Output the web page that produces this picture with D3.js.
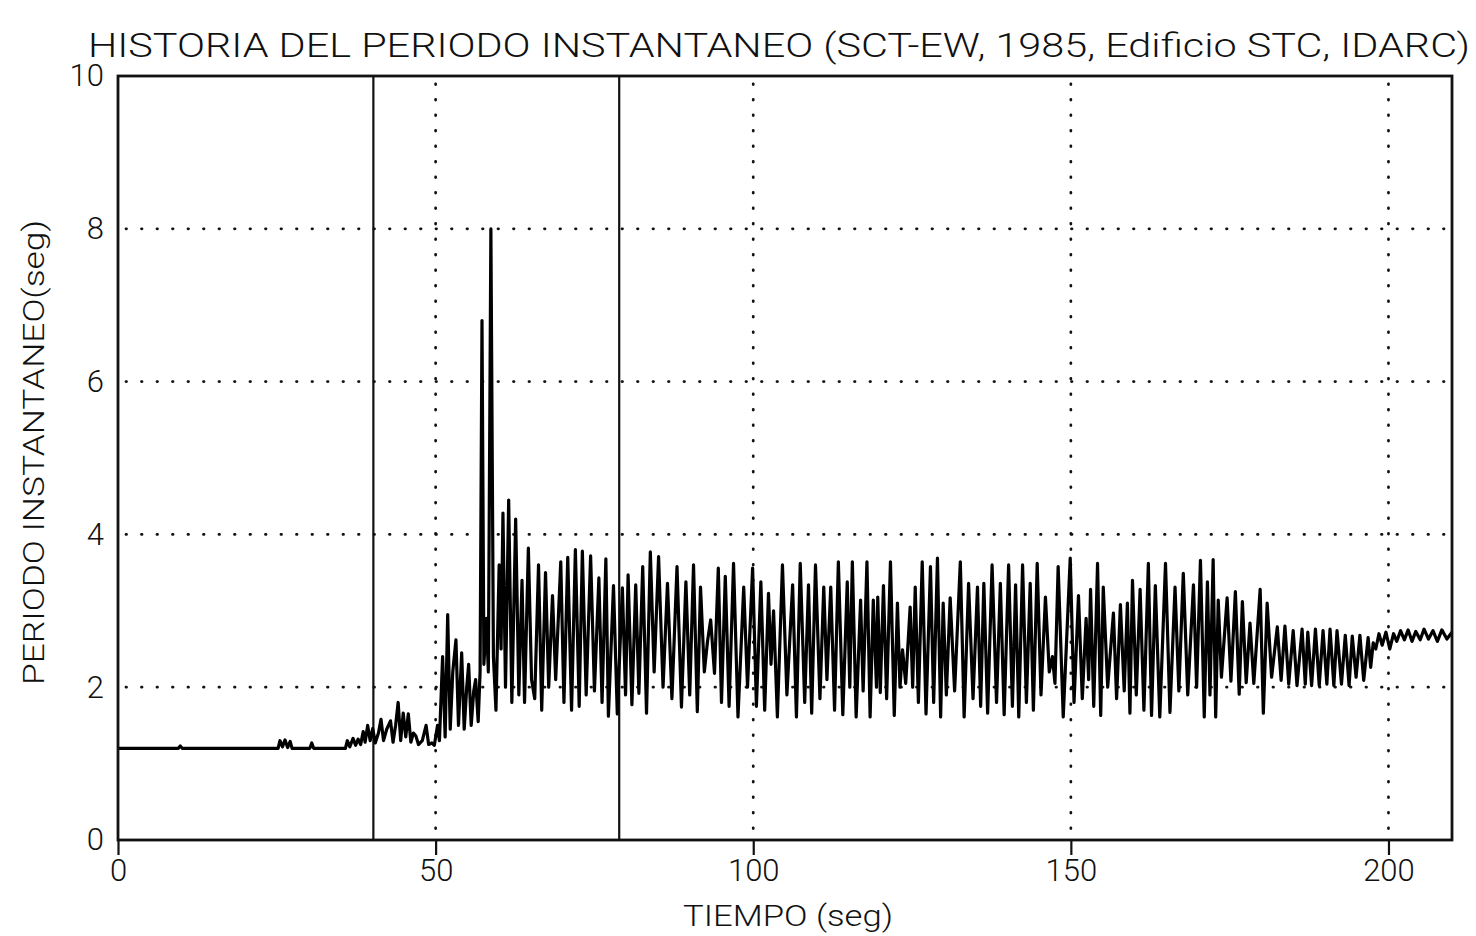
<!DOCTYPE html>
<html>
<head>
<meta charset="utf-8">
<script src="https://cdn.jsdelivr.net/npm/d3@7"></script>
<style>
  body { margin: 0; background: #fff; }
  svg { display: block; }
  text { font-family: Roboto, "Liberation Sans", sans-serif; font-weight: 300; fill: #111; }
</style>
</head>
<body>
<svg width="1476" height="936"></svg>
<script>
// dimensioni della pagina e del riquadro del grafico
const width = 1476;
const height = 936;
const margin = {top: 76, right: 24, bottom: 96, left: 118};

// testi
const titolo = "HISTORIA DEL PERIODO INSTANTANEO (SCT-EW, 1985, Edificio STC, IDARC)";
const etichettaX = "TIEMPO (seg)";
const etichettaY = "PERIODO INSTANTANEO(seg)";

// assi: dominio e tacche
const dominioX = [0, 210];
const dominioY = [0, 10];
const tickX = [0, 50, 100, 150, 200];
const tickY = [0, 2, 4, 6, 8, 10];
const grigliaX = [50, 100, 150, 200];
const grigliaY = [2, 4, 6, 8];

// linee verticali continue (istanti marcati)
const lineeVerticali = [40.2, 78.9];

// storia del periodo istantaneo: [tiempo (s), periodo (s)]
const registro = [
  [0,1.2],[9.5,1.2],[9.8,1.23],[10.1,1.2],[25.2,1.2],[25.5,1.3],[25.9,1.22],[26.3,1.31],[26.7,1.21],[27.1,1.29],
  [27.4,1.2],[30.2,1.2],[30.5,1.27],[30.8,1.2],[35.8,1.2],[36.1,1.3],[36.5,1.22],[37,1.33],[37.4,1.24],[37.8,1.32],
  [38.2,1.25],[38.6,1.42],[38.9,1.28],[39.3,1.5],[39.7,1.3],[40.1,1.46],[40.5,1.27],[41,1.4],[41.4,1.58],[41.8,1.3],
  [42.3,1.45],[42.9,1.56],[43.3,1.28],[43.7,1.5],[44.1,1.8],[44.5,1.3],[44.9,1.66],[45.3,1.35],[45.7,1.65],[46.1,1.28],
  [46.5,1.4],[46.9,1.36],[47.3,1.25],[47.9,1.3],[48.5,1.5],[48.9,1.25],[49.4,1.27],[49.8,1.24],
  [50.3,1.5],[50.6,1.3],[51.1,2.4],[51.5,1.35],[51.9,2.95],[52.3,1.45],[52.7,2.2],[53.2,2.62],[53.6,1.5],[54.1,2.45],
  [54.5,1.45],[54.9,2.0],[55.2,2.3],[55.6,1.5],[56,1.95],[56.3,2.1],[56.7,1.55],[57.0,2.2],
  [57.3,6.8],[57.6,2.3],[58.0,2.9],[58.3,2.2],[58.7,8.0],[59.1,2.4],[59.5,1.7],[60.0,3.6],[60.3,2.5],[60.6,4.28],
  [61.0,2.0],[61.5,4.45],[62.0,1.8],[62.6,4.2],[63.1,1.9],[63.6,3.4],[64.0,1.8],[64.6,3.82],[65.1,2.1],[65.6,1.85],
  [66.2,3.6],[66.7,1.7],[67.3,3.5],[67.8,2.0],[68.4,3.2],[68.9,2.1],[69.7,3.64],[70.2,1.8],[70.8,3.7],[71.4,1.7],
  [72.0,3.8],[72.6,1.75],[73.1,3.78],[73.7,1.9],[74.4,3.72],[75,1.95],[75.7,3.43],[76.2,1.8],[76.8,3.68],[77.2,1.62],
  [78,3.33],[78.6,1.65],[79.4,3.3],[79.9,1.9],[80.3,3.47],[80.9,1.77],[81.5,3.34],[82.0,1.92],[82.6,3.58],[83.2,1.66],
  [83.8,3.77],[84.4,2.2],[85.1,3.71],[85.8,2.0],[86.5,3.36],[87.2,1.85],[88,3.58],[88.7,1.74],[89.4,3.38],[90.0,1.9],
  [90.6,3.6],[91.2,1.68],[91.7,3.31],[92.3,2.2],[92.8,2.6],[93.3,2.88],[93.9,2.18],[94.5,3.56],[95.0,1.8],[95.6,3.45],
  [96.2,1.75],[96.9,3.62],[97.6,1.61],[98.5,3.31],[99.1,2.0],[99.9,3.56],[100.5,1.75],[101.2,3.38],[101.8,1.7],[102.4,3.23],
  [102.8,2.3],[103.2,3.0],[103.8,1.61],[104.6,3.6],[105.3,1.9],[106.2,3.34],[106.8,1.61],[107.4,3.62],[108.1,1.8],[108.7,3.34],
  [109.2,1.66],[109.8,3.6],[110.5,1.85],[111.1,3.31],[111.6,2.1],[112.2,3.31],[112.8,1.7],[113.4,3.64],[114.1,1.64],[114.8,3.38],
  [115.2,2.0],[115.6,3.64],[116.2,1.61],[116.9,3.14],[117.3,1.95],[117.9,3.64],[118.4,1.61],[118.9,3.14],[119.4,2.0],[119.6,3.18],
  [120.0,1.93],[120.5,3.33],[121.0,1.85],[121.6,3.64],[122.2,1.63],[122.7,3.1],[123.1,2.0],[123.5,2.49],[124.0,2.05],[124.7,3.05],
  [125.1,2.0],[125.5,3.31],[126.0,1.8],[126.6,3.64],[127.2,1.65],[127.9,3.58],[128.4,1.8],[129,3.69],[129.5,1.61],[129.9,3.1],
  [130.4,1.9],[131,3.17],[131.7,1.95],[132.6,3.64],[133.2,1.61],[133.9,3.36],[134.6,1.85],[135.3,3.31],[135.8,1.75],[136.3,3.36],
  [136.9,1.66],[137.6,3.6],[138.3,1.8],[138.9,3.36],[139.5,1.64],[140.2,3.6],[140.8,1.75],[141.3,3.34],[141.8,1.61],[142.4,3.6],
  [143.0,1.8],[143.6,3.36],[144.1,1.7],[144.7,3.62],[145.3,1.9],[146,3.18],[146.6,2.2],[147.1,2.4],[147.5,2.05],[148,3.58],
  [148.8,1.61],[149.9,3.69],[150.5,1.8],[151.2,3.2],[151.8,1.85],[152.4,2.9],[152.8,2.1],[153.1,3.28],[153.6,1.75],[154.2,3.62],
  [154.7,1.63],[155.1,3.31],[155.8,2.0],[156.7,2.97],[157.2,1.85],[157.8,3.08],[158.4,1.95],[158.9,3.1],[159.3,1.66],[159.7,3.4],
  [160.3,1.9],[160.9,3.28],[161.5,1.7],[162.2,3.62],[162.7,1.63],[163.3,3.33],[164.0,1.61],[164.9,3.62],[165.6,1.67],[166.4,3.31],
  [167.0,1.95],[167.7,3.49],[168.4,1.9],[169.3,3.34],[169.8,2.0],[170.4,3.66],[171.0,1.61],[171.5,3.38],[171.9,1.9],[172.4,3.67],
  [172.8,1.61],[173.2,3.14],[173.7,2.13],[174.6,3.17],[175.2,2.08],[175.9,3.25],[176.5,1.91],[177,3.12],[177.6,2.06],[178.2,2.84],
  [178.8,2.05],[179.8,3.28],[180.3,1.66],[180.9,3.1],[181.6,2.13],[182.5,2.79],[183.1,2.09],[183.7,2.8],[184.3,2.04],[185,2.74],
  [185.6,2.02],[186.4,2.76],[186.9,2.04],[187.3,2.72],[187.9,2.02],[188.5,2.76],[189.1,2.02],[189.7,2.74],[190.3,2.04],[190.8,2.76],
  [191.4,2.02],[191.9,2.74],[192.6,2.04],[193.2,2.68],[193.8,2.02],[194.3,2.67],[194.9,2.13],[195.5,2.68],[196.1,2.09],[196.8,2.65],
  [197.2,2.26],[197.6,2.58],[198,2.5],[198.5,2.7],[199,2.55],[199.6,2.72],[200.2,2.5],[200.8,2.7],[201.3,2.6],[201.9,2.74],
  [202.5,2.62],[203.1,2.75],[203.7,2.6],[204.3,2.73],[205,2.62],[205.6,2.76],[206.3,2.63],[207,2.74],[207.7,2.6],[208.4,2.75],
  [209.2,2.63],[210,2.72]
];

const svg = d3.select("svg").attr("viewBox", [0, 0, width, height]);

const x = d3.scaleLinear().domain(dominioX).range([margin.left, width - margin.right]);
const y = d3.scaleLinear().domain(dominioY).range([height - margin.bottom, margin.top]);

// griglia punteggiata
const griglia = svg.append("g")
  .attr("stroke", "#111")
  .attr("stroke-width", 2.8)
  .attr("stroke-linecap", "round")
  .attr("stroke-dasharray", "0.5,15");

griglia.selectAll(".gx")
  .data(grigliaX)
  .join("line")
  .attr("x1", d => x(d)).attr("x2", d => x(d))
  .attr("y1", y(dominioY[1]) + 8).attr("y2", y(0));

griglia.selectAll(".gy")
  .data(grigliaY)
  .join("line")
  .attr("x1", x(0) + 8).attr("x2", x(dominioX[1]))
  .attr("y1", d => y(d)).attr("y2", d => y(d));

// linee verticali continue
svg.append("g")
  .selectAll("line")
  .data(lineeVerticali)
  .join("line")
  .attr("x1", d => x(d)).attr("x2", d => x(d))
  .attr("y1", y(dominioY[1])).attr("y2", y(0))
  .attr("stroke", "#111")
  .attr("stroke-width", 2.2);

// la serie
const linea = d3.line()
  .x(d => x(d[0]))
  .y(d => y(d[1]));

svg.append("path")
  .datum(registro)
  .attr("fill", "none")
  .attr("stroke", "#000")
  .attr("stroke-width", 3.2)
  .attr("stroke-linejoin", "round")
  .attr("d", linea);

// cornice
svg.append("rect")
  .attr("x", x(0)).attr("y", y(dominioY[1]))
  .attr("width", x(dominioX[1]) - x(0))
  .attr("height", y(0) - y(dominioY[1]))
  .attr("fill", "none")
  .attr("stroke", "#111")
  .attr("stroke-width", 2.8);

// asse x
const assex = svg.append("g")
  .attr("transform", `translate(0,${y(0)})`)
  .call(d3.axisBottom(x).tickValues(tickX).tickSize(15).tickPadding(4).tickFormat(d3.format("d")));
assex.select(".domain").remove();
assex.selectAll(".tick line").attr("stroke", "#111").attr("stroke-width", 2.2);
assex.selectAll(".tick text")
  .style("font-family", "Roboto, 'Liberation Sans', sans-serif")
  .style("font-weight", 300)
  .style("font-size", "31px")
  .attr("fill", "#111");

// asse y
const assey = svg.append("g")
  .attr("transform", `translate(${x(0)},0)`)
  .call(d3.axisLeft(y).tickValues(tickY).tickSize(0).tickPadding(14).tickFormat(d3.format("d")));
assey.select(".domain").remove();
assey.selectAll(".tick text")
  .style("font-family", "Roboto, 'Liberation Sans', sans-serif")
  .style("font-weight", 300)
  .style("font-size", "31px")
  .attr("fill", "#111");

// titolo ed etichette
svg.append("text")
  .attr("x", 88).attr("y", 57)
  .attr("textLength", 1382)
  .attr("lengthAdjust", "spacingAndGlyphs")
  .style("font-size", "33px")
  .text(titolo);

svg.append("text")
  .attr("x", 683).attr("y", 926)
  .attr("textLength", 210)
  .attr("lengthAdjust", "spacingAndGlyphs")
  .style("font-size", "30px")
  .text(etichettaX);

svg.append("text")
  .attr("transform", "translate(44,685) rotate(-90)")
  .attr("textLength", 465)
  .attr("lengthAdjust", "spacingAndGlyphs")
  .style("font-size", "30px")
  .text(etichettaY);
</script>
</body>
</html>
